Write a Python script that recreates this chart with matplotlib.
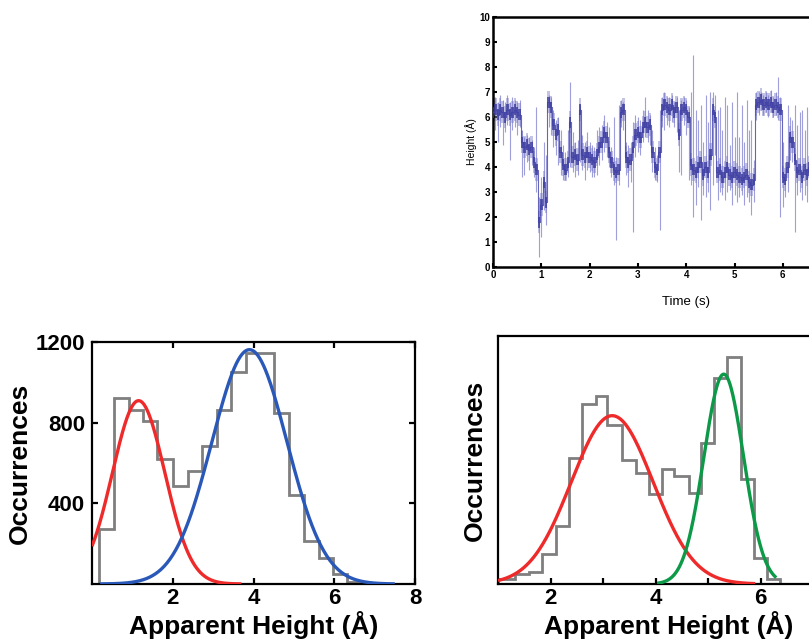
import numpy as np
import matplotlib
matplotlib.use("Agg")
import matplotlib.pyplot as plt

plt.rcParams['font.family'] = ['Liberation Sans', 'DejaVu Sans']

# top panel: height trace, sampled every 0.05 s (centre of band, low and high excursions)
t_step = 0.05
trace_mid = [6.2, 6.3, 6.1, 6.3, 6.2, 6.0, 6.3, 6.1, 6.2, 6.3, 6.2, 6.1,
             5.0, 4.8, 4.9, 4.7, 4.8, 4.2, 3.9, 1.8, 2.5, 3.4, 2.6, 6.6,
             6.4, 5.7, 5.3, 5.5, 4.6, 4.1, 3.9, 4.2, 5.8, 4.4, 4.5, 4.3,
             6.3, 4.5, 4.4, 4.6, 4.4, 4.3, 4.2, 4.5, 4.8, 5.0, 5.4, 5.2,
             4.6, 4.2, 3.9, 3.8, 3.9, 6.2, 6.3, 4.4, 4.2, 4.3, 4.8, 5.3,
             5.4, 5.2, 5.6, 5.8, 5.6, 5.7, 4.6, 4.0, 3.9, 4.6, 6.3, 6.5,
             6.4, 6.3, 6.5, 6.2, 6.4, 5.3, 6.3, 6.4, 6.3, 6.0, 4.1, 3.9,
             3.8, 4.0, 4.2, 3.7, 4.0, 3.8, 4.5, 6.3, 6.0, 3.8, 3.9, 3.6,
             3.8, 4.0, 3.7, 3.6, 3.8, 3.7, 3.6, 3.5, 3.6, 3.7, 3.4, 3.3,
             3.5, 6.5, 6.6, 6.7, 6.5, 6.6, 6.5, 6.6, 6.4, 6.5, 6.4, 6.3,
             3.6, 3.5, 4.0, 5.2, 5.0, 4.3, 3.8, 3.9, 3.6, 3.9, 3.7, 4.0, 3.8]
trace_hi = [6.7, 6.8, 6.6, 6.9, 6.7, 6.6, 6.9, 6.6, 6.8, 6.7, 6.6, 6.7,
            5.5, 5.2, 5.3, 5.2, 5.1, 4.8, 6.4, 2.8, 3.6, 5.0, 4.5, 6.9,
            6.8, 6.3, 5.9, 6.0, 5.5, 4.9, 4.6, 5.5, 7.4, 5.4, 5.0, 5.1,
            6.5, 5.3, 5.0, 5.4, 5.0, 4.9, 4.8, 5.5, 5.6, 5.7, 6.1, 5.8,
            5.6, 4.8, 6.0, 4.4, 6.5, 6.7, 6.6, 5.0, 4.9, 5.0, 5.8, 6.1,
            6.0, 5.9, 6.3, 6.8, 6.3, 6.1, 5.5, 4.8, 4.5, 6.3, 6.8, 7.0,
            6.8, 6.8, 6.9, 6.6, 6.8, 6.3, 6.7, 6.8, 6.7, 6.4, 7.0, 8.5,
            6.3, 5.9, 6.5, 5.0, 6.9, 5.8, 7.0, 7.0, 6.9, 6.3, 6.4, 5.5,
            6.8, 6.5, 4.9, 6.6, 5.2, 7.0, 5.2, 6.5, 5.0, 6.7, 5.5, 5.9,
            4.3, 7.0, 7.0, 7.0, 6.9, 7.0, 6.9, 7.1, 6.8, 7.0, 7.6, 6.8,
            5.0, 4.2, 6.5, 6.0, 5.9, 6.5, 5.7, 6.2, 6.3, 5.5, 6.4, 6.0, 5.8]
trace_lo = [5.6, 5.5, 5.0, 5.6, 4.9, 5.4, 5.7, 4.3, 5.5, 5.6, 5.3, 5.6,
            3.6, 3.7, 4.2, 3.9, 4.1, 3.6, 3.0, 0.4, 1.2, 2.3, 1.7, 5.6,
            5.3, 4.8, 4.5, 4.1, 3.7, 3.5, 3.5, 3.6, 4.0, 3.8, 3.6, 3.7,
            4.2, 3.9, 3.5, 3.9, 3.8, 3.6, 3.6, 3.7, 4.1, 4.3, 4.6, 4.4,
            4.0, 3.6, 3.3, 1.1, 3.3, 5.6, 5.5, 3.7, 3.2, 3.4, 1.4, 4.4,
            4.6, 4.5, 5.0, 5.2, 5.0, 4.9, 3.8, 3.5, 3.4, 1.5, 5.6, 5.5,
            5.7, 5.6, 5.8, 5.6, 5.4, 3.8, 3.7, 5.7, 5.3, 3.5, 3.3, 2.0,
            2.5, 3.2, 1.9, 2.9, 2.8, 3.0, 2.3, 3.3, 4.5, 2.7, 3.0, 2.9,
            2.7, 3.0, 3.1, 2.5, 2.9, 2.6, 2.8, 2.9, 2.5, 2.8, 2.6, 2.1,
            2.6, 5.9, 6.1, 6.3, 6.1, 6.2, 6.0, 6.2, 6.0, 6.1, 5.9, 2.0,
            2.4, 2.8, 3.0, 4.3, 4.2, 1.4, 2.9, 3.0, 2.7, 2.9, 2.6, 3.0, 2.8]

# bottom-left histogram (step outline) and its two gaussian fits
edges_a = [0.17, 0.54, 0.91, 1.26, 1.62, 2.0, 2.37, 2.72, 3.09, 3.45,
           3.82, 4.16, 4.52, 4.87, 5.24, 5.61, 5.98, 6.31, 6.68]
counts_a = [273, 922, 863, 806, 620, 488, 562, 686, 863, 1050,
            1144, 1144, 846, 443, 215, 127, 50, 8]
# (amplitude, centre, sigma, x from, x to)
fit_a_red = [909, 1.155, 0.65, 0.0, 3.7]
fit_a_blue = [1162, 3.9, 0.93, 0.2, 7.5]

# bottom-right histogram (arbitrary units) and fits
edges_b = [1.0, 1.33, 1.59, 1.84, 2.10, 2.35, 2.60, 2.86, 3.08, 3.37, 3.62,
           3.87, 4.13, 4.35, 4.64, 4.86, 5.11, 5.37, 5.62, 5.87, 6.13, 6.38]
counts_b = [15, 30, 37, 90, 175, 380, 543, 565, 480, 375, 333,
            270, 345, 325, 275, 425, 620, 683, 315, 77, 15]
fit_b_red = [507, 3.175, 0.78, 1.0, 5.9]
fit_b_green = [632, 5.30, 0.378, 4.03, 6.3]

RED = '#ee2a2a'
BLUE = '#2a58b8'
GREEN = '#0c9a48'
GRAY = '#7f7f7f'


def gauss_curve(ax, fit, color):
    amp, mu, sd, x0, x1 = fit
    xs = np.linspace(x0, x1, 300)
    ax.plot(xs, amp * np.exp(-(xs - mu) ** 2 / (2 * sd ** 2)), color=color, lw=2.4,
            solid_capstyle='butt', zorder=3)


def hist_axes(ax):
    for s in ax.spines.values():
        s.set_linewidth(1.6)
    ax.tick_params(direction='in', top=True, right=True, length=4, width=1.6,
                   labelsize=16, pad=3)
    for lab in ax.get_xticklabels() + ax.get_yticklabels():
        lab.set_fontweight('bold')
    ax.tick_params(axis='y', pad=5)


W, H = 809, 644
fig = plt.figure(figsize=(W / 100, H / 100), dpi=100)

# ---- top panel ----
ax1 = fig.add_axes([493 / W, 1 - 267 / H, 8 * 48.3 / W, 250 / H])
t = np.arange(len(trace_mid)) * t_step
mid = np.array(trace_mid)
ax1.vlines(t, trace_lo, trace_hi, color='#8e8ed6', lw=0.8, alpha=0.85, zorder=1)
ax1.fill_between(t, mid - 0.45, mid + 0.45, step='mid',
                 color='#7a7ac8', alpha=0.45, lw=0, zorder=2)
ax1.fill_between(t, mid - 0.22, mid + 0.22, step='mid',
                 color='#34349a', alpha=0.75, lw=0, zorder=3)
ax1.plot(t, trace_mid, drawstyle='steps-mid', color='#4040a8', lw=0.8, alpha=0.8, zorder=4)
ax1.set_xlim(0, 8)
ax1.set_ylim(0, 10)
ax1.set_xticks(range(0, 9))
ax1.set_xticklabels([str(i) for i in range(0, 7)] + ['', ''])
ax1.set_yticks(range(0, 11))
for s in ax1.spines.values():
    s.set_linewidth(1.8)
ax1.tick_params(direction='in', length=3, width=1.5, labelsize=7, pad=2)
for lab in ax1.get_xticklabels() + ax1.get_yticklabels():
    lab.set_fontweight('bold')
ax1.set_xlabel('Time (s)', fontsize=9.5, labelpad=12)
ax1.set_ylabel('Height (Å)', fontsize=7.5, labelpad=2)

# ---- bottom-left panel ----
ax2 = fig.add_axes([92 / W, 1 - 584 / H, 323 / W, 242 / H])
ax2.stairs(counts_a, edges_a, color=GRAY, lw=2.0, zorder=2)
ax2.plot([edges_a[-1], 8], [0, 0], color=GRAY, lw=2.0)
gauss_curve(ax2, fit_a_red, RED)
gauss_curve(ax2, fit_a_blue, BLUE)
ax2.set_xlim(0, 8)
ax2.set_ylim(0, 1200)
ax2.set_xticks([2, 4, 6, 8])
ax2.set_yticks([400, 800, 1200])
hist_axes(ax2)
ax2.set_xlabel('Apparent Height (Å)', fontsize=19, fontweight='bold', labelpad=1)
ax2.set_ylabel('Occurrences', fontsize=19, fontweight='bold', labelpad=3)

# ---- bottom-right panel ----
ax3 = fig.add_axes([498 / W, 1 - 584 / H, 6.5 * 52.5 / W, 248 / H])
ax3.stairs(counts_b, edges_b, color=GRAY, lw=2.0, zorder=2)
gauss_curve(ax3, fit_b_red, RED)
gauss_curve(ax3, fit_b_green, GREEN)
ax3.set_xlim(1, 7.5)
ax3.set_ylim(0, 747)
ax3.set_xticks([2, 3, 4, 5, 6, 7])
ax3.set_xticklabels(['2', '', '4', '', '6', ''])
ax3.set_yticks([])
hist_axes(ax3)
ax3.tick_params(top=False)
ax3.set_xlabel('Apparent Height (Å)', fontsize=19, fontweight='bold', labelpad=1)
ax3.set_ylabel('Occurrences', fontsize=19, fontweight='bold', labelpad=8)

fig.savefig('out.png', dpi=100)
